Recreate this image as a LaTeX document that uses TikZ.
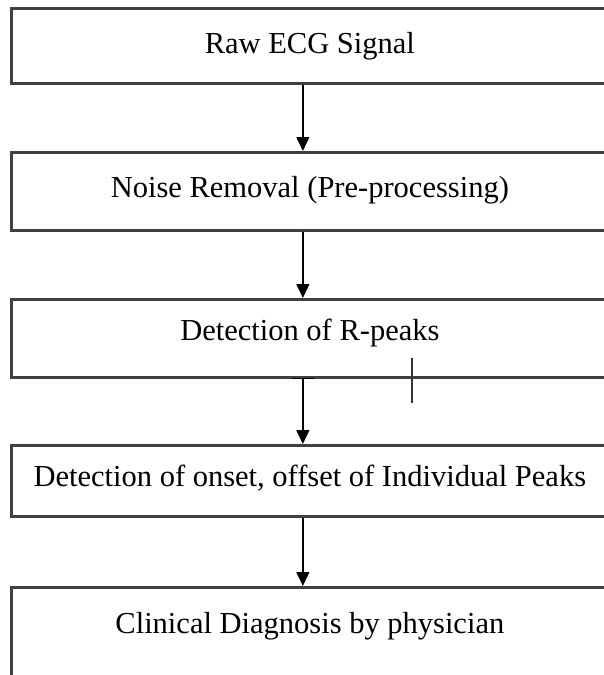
\documentclass[tikz,border=0pt]{standalone}
\usepackage{fontspec}
\setmainfont{Liberation Serif}
\usetikzlibrary{positioning,arrows.meta}

\begin{document}
\begin{tikzpicture}[x=1pt,y=1pt,node distance=66pt]
  \tikzstyle{stage}=[draw=black!75,line width=2.7pt,minimum width=597pt,inner sep=0pt,text height=21pt,font=\fontsize{30.5}{36}\selectfont]
  \tikzstyle{flow}=[line width=1.4pt,-{Triangle[width=13pt,length=14pt]}]
  \tikzstyle{barflow}=[line width=1.4pt,{Bar[width=22pt,line width=1.4pt]}-{Triangle[width=13pt,length=14pt]}]
  \useasboundingbox (0,0) rectangle (603,-675);
  \node[stage,minimum height=75pt,text depth=6pt,anchor=north west] (raw) at (10,-7) {Raw ECG Signal};
  \node[stage,minimum height=78pt,text depth=9pt,below=66.3pt of raw] (noise) {Noise Removal (Pre-processing)};
  \node[stage,minimum height=78pt,text depth=17pt,below=66.3pt of noise] (rpeak) {Detection of R-peaks};
  \node[stage,minimum height=71pt,text depth=10pt,below=65.3pt of rpeak] (onset) {Detection of onset, offset of Individual Peaks};
  \node[stage,minimum height=100pt,text depth=29pt,below=68.3pt of onset] (diag) {Clinical Diagnosis by physician};
  \draw[flow] ([xshift=-7pt]raw.south) -- ([xshift=-7pt]noise.north);
  \draw[flow] ([xshift=-7pt]noise.south) -- ([xshift=-7pt]rpeak.north);
  \draw[barflow] ([xshift=-7pt,yshift=1pt]rpeak.south) -- ([xshift=-7pt]onset.north);
  \draw[flow] ([xshift=-7pt]onset.south) -- ([xshift=-7pt]diag.north);
  \draw[line width=1.4pt,black!80] ([xshift=102pt,yshift=21pt]rpeak.south) -- ++(0,-45);
\end{tikzpicture}
\end{document}
